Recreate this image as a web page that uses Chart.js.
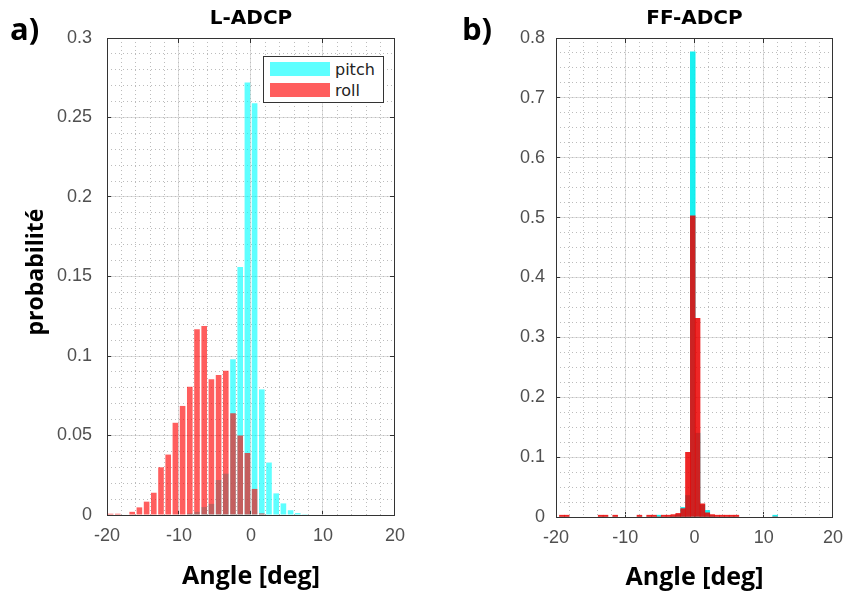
<!DOCTYPE html>
<html lang="fr">
<head>
<meta charset="UTF-8">
<title>L-ADCP / FF-ADCP</title>
<script src="https://cdn.jsdelivr.net/npm/chart.js@4.4.1/dist/chart.umd.min.js"></script>
<style>
    html, body { margin: 0; padding: 0; background: #fff; }
    .figure { position: relative; width: 858px; height: 598px; overflow: hidden; font-family: 'Open Sans', sans-serif; }
    .panel { position: absolute; top: 0; height: 598px; }
    .panel-left { left: 0; width: 420px; }
    .panel-right { left: 440px; width: 418px; }
    .tag { position: absolute; top: 13px; font-weight: 700; font-size: 31px; line-height: 1; color: #000; }
    .ylabel {
        position: absolute; left: 34px; top: 272px;
        font-weight: 700; font-size: 23px; color: #000; white-space: nowrap;
        transform: translate(-50%, -50%) rotate(-90deg);
    }
    .legend {
        position: absolute; left: 263px; top: 56px; width: 119px; height: 45px;
        border: 1px solid #333; background: #fff;
        font-family: 'DejaVu Sans', sans-serif; font-size: 16px; color: #222;
    }
    .legend-row { position: absolute; left: 6px; height: 14px; display: flex; align-items: center; }
    .swatch { width: 60px; height: 14px; margin-right: 5px; }
</style>
</head>
<body>
<div class="figure">
    <div class="panel panel-left"><canvas id="chartL"></canvas></div>
    <div class="panel panel-right"><canvas id="chartR"></canvas></div>
    <div class="tag" style="left: 10px;">a)</div>
    <div class="tag" style="left: 462px;">b)</div>
    <div class="ylabel">probabilité</div>
    <div class="legend" id="legendL"></div>
</div>

<script>
// axes
const xTicks = [-20, -10, 0, 10, 20];
const yTicksL = [0, 0.05, 0.1, 0.15, 0.2, 0.25, 0.3];
const yTicksR = [0, 0.1, 0.2, 0.3, 0.4, 0.5, 0.6, 0.7, 0.8];
const seriesNames = ['pitch', 'roll'];

// L-ADCP : classes de 1°
const binsL = [-19.5, -18.5, -17.5, -16.5, -15.5, -14.5, -13.5, -12.5, -11.5, -10.5,
               -9.5, -8.5, -7.5, -6.5, -5.5, -4.5, -3.5, -2.5, -1.5, -0.5,
               0.5, 1.5, 2.5, 3.5, 4.5, 5.5, 6.5, 7.5];
const pitchL = [0, 0, 0, 0, 0, 0, 0, 0, 0, 0,
                0, 0.001, 0.002, 0.005, 0.007, 0.022, 0.026, 0.098, 0.156, 0.272,
                0.259, 0.079, 0.033, 0.0136, 0.0073, 0.003, 0.0012, 0.0005];
const rollL = [0.0008, 0.0008, 0, 0.002, 0.0048, 0.0084, 0.014, 0.030, 0.038, 0.058,
               0.0686, 0.0807, 0.1168, 0.1189, 0.0853, 0.088, 0.0908, 0.064, 0.050, 0.039,
               0.0164, 0.001, 0, 0, 0, 0, 0, 0];

// FF-ADCP : classes de ~0.7°
const binsR = [-19.15, -18.45, -13.55, -12.85, -11.45, -7.95, -6.55, -5.85, -5.15, -4.45,
               -3.75, -3.05, -2.35, -1.65, -0.95, -0.25, 0.45, 1.15, 1.85, 2.55,
               3.25, 3.95, 4.65, 5.35, 6.05, 11.65];
const pitchR = [0, 0, 0, 0, 0, 0, 0, 0, 0.003, 0,
                0, 0.001, 0.004, 0.016, 0.036, 0.777, 0.14, 0.02, 0.011, 0.002,
                0, 0, 0, 0, 0, 0.003];
const rollR = [0.003, 0.003, 0.003, 0.003, 0.003, 0.003, 0.003, 0.003, 0, 0.003,
               0.003, 0.004, 0.006, 0.014, 0.108, 0.503, 0.332, 0.022, 0.007, 0.004,
               0.003, 0.003, 0.003, 0.003, 0.003, 0];

const AXIS = '#333333';
const GRID = '#dedede';
const MINOR = '#bcbcbc';
const TICK_FONT = { family: 'Liberation Sans', size: 18 };

class AngleHistogramFigure {
    constructor() {
        this.charts = [];
        this.init();
    }

    init() {
        Chart.defaults.animation = false;
        this.charts.push(this.buildPanel('chartL', {
            title: 'L-ADCP', bins: binsL, pitch: pitchL, roll: rollL,
            yMax: 0.3, yTicks: yTicksL, yMinorStep: 0.01,
            axisWidth: 107, axisHeight: 83, padRight: 23, yTickPad: 20, xTitlePad: 6,
            colors: ['rgba(0,255,255,0.63)', 'rgba(255,0,0,0.63)'], barPercentage: 0.78
        }));
        this.charts.push(this.buildPanel('chartR', {
            title: 'FF-ADCP', bins: binsR, pitch: pitchR, roll: rollR,
            yMax: 0.8, yTicks: yTicksR, yMinorStep: 0.025,
            axisWidth: 116, axisHeight: 81, padRight: 12, yTickPad: 16, xTitlePad: 5,
            colors: ['rgba(0,238,238,0.9)', 'rgba(235,0,0,0.85)'], barPercentage: 1
        }));
        this.buildLegend(['rgba(0,255,255,0.63)', 'rgba(255,0,0,0.63)']);
    }

    toPoints(bins, values) {
        return bins.map((x, i) => ({ x: x, y: values[i] }));
    }

    buildPanel(canvasId, p) {
        const fixTicks = values => scale => { scale.ticks = values.map(v => ({ value: v })); };
        const ctx = document.getElementById(canvasId).getContext('2d');

        return new Chart(ctx, {
            type: 'bar',
            data: {
                datasets: [
                    {
                        label: seriesNames[0],
                        data: this.toPoints(p.bins, p.pitch),
                        backgroundColor: p.colors[0],
                        borderWidth: 0,
                        grouped: false,
                        order: 1,
                        barPercentage: p.barPercentage,
                        categoryPercentage: 1,
                        xAxisID: 'x',
                        yAxisID: 'y'
                    },
                    {
                        label: seriesNames[1],
                        data: this.toPoints(p.bins, p.roll),
                        backgroundColor: p.colors[1],
                        borderWidth: 0,
                        grouped: false,
                        order: 0,
                        barPercentage: p.barPercentage,
                        categoryPercentage: 1,
                        xAxisID: 'x',
                        yAxisID: 'y'
                    }
                ]
            },
            options: {
                responsive: true,
                maintainAspectRatio: false,
                animation: false,
                layout: { padding: { top: 7, right: p.padRight, bottom: 0, left: 0 } },
                plugins: {
                    legend: { display: false },
                    tooltip: { enabled: false },
                    title: {
                        display: true,
                        text: p.title,
                        fullSize: false,
                        color: '#000',
                        font: { family: 'DejaVu Sans', size: 20, weight: 'bold' },
                        padding: { top: 0, bottom: 7 }
                    }
                },
                scales: {
                    x: {
                        type: 'linear', position: 'bottom', min: -20, max: 20, offset: false,
                        afterBuildTicks: fixTicks(xTicks),
                        afterFit: s => { s.height = p.axisHeight; },
                        grid: { offset: false, color: GRID, drawTicks: true, tickLength: -5, tickColor: AXIS },
                        border: { color: AXIS, width: 1 },
                        ticks: { color: '#505050', font: TICK_FONT, padding: 15, maxRotation: 0, autoSkip: false,
                                 callback: v => String(v) },
                        title: {
                            display: true, text: 'Angle [deg]', color: '#000',
                            font: { family: 'Open Sans', size: 25, weight: 'bold' },
                            padding: { top: 0, bottom: p.xTitlePad }
                        }
                    },
                    y: {
                        type: 'linear', position: 'left', min: 0, max: p.yMax,
                        afterBuildTicks: fixTicks(p.yTicks),
                        afterFit: s => { s.width = p.axisWidth; },
                        grid: { color: GRID, drawTicks: true, tickLength: -5, tickColor: AXIS },
                        border: { color: AXIS, width: 1 },
                        ticks: { color: '#505050', font: TICK_FONT, padding: p.yTickPad, callback: v => String(v) }
                    },
                    xMinor: {
                        type: 'linear', position: 'bottom', min: -20, max: 20, offset: false,
                        afterFit: s => { s.height = 0; },
                        ticks: { display: false, stepSize: 2, maxTicksLimit: 200 },
                        grid: { offset: false, color: MINOR, drawTicks: false },
                        border: { display: false, dash: [1, 3] }
                    },
                    yMinor: {
                        type: 'linear', position: 'left', min: 0, max: p.yMax,
                        afterFit: s => { s.width = 0; },
                        ticks: { display: false, stepSize: p.yMinorStep, maxTicksLimit: 200 },
                        grid: { color: MINOR, drawTicks: false },
                        border: { display: false, dash: [1, 3] }
                    },
                    xTop: {
                        type: 'linear', position: 'top', min: -20, max: 20, offset: false,
                        afterBuildTicks: fixTicks(xTicks),
                        afterFit: s => { s.height = 0; },
                        ticks: { display: false },
                        grid: { offset: false, drawOnChartArea: false, tickLength: -5, tickColor: AXIS },
                        border: { color: AXIS, width: 1 }
                    },
                    yRight: {
                        type: 'linear', position: 'right', min: 0, max: p.yMax,
                        afterBuildTicks: fixTicks(p.yTicks),
                        afterFit: s => { s.width = 0; },
                        ticks: { display: false },
                        grid: { drawOnChartArea: false, tickLength: -5, tickColor: AXIS },
                        border: { color: AXIS, width: 1 }
                    }
                }
            }
        });
    }

    buildLegend(colors) {
        const box = document.getElementById('legendL');
        seriesNames.forEach((name, i) => {
            const row = document.createElement('div');
            row.className = 'legend-row';
            row.style.top = (5 + i * 21) + 'px';
            row.innerHTML = `<span class="swatch" style="background:${colors[i]}"></span><span>${name}</span>`;
            box.appendChild(row);
        });
    }
}

window.addEventListener('DOMContentLoaded', () => {
    new AngleHistogramFigure();
});
</script>
</body>
</html>
